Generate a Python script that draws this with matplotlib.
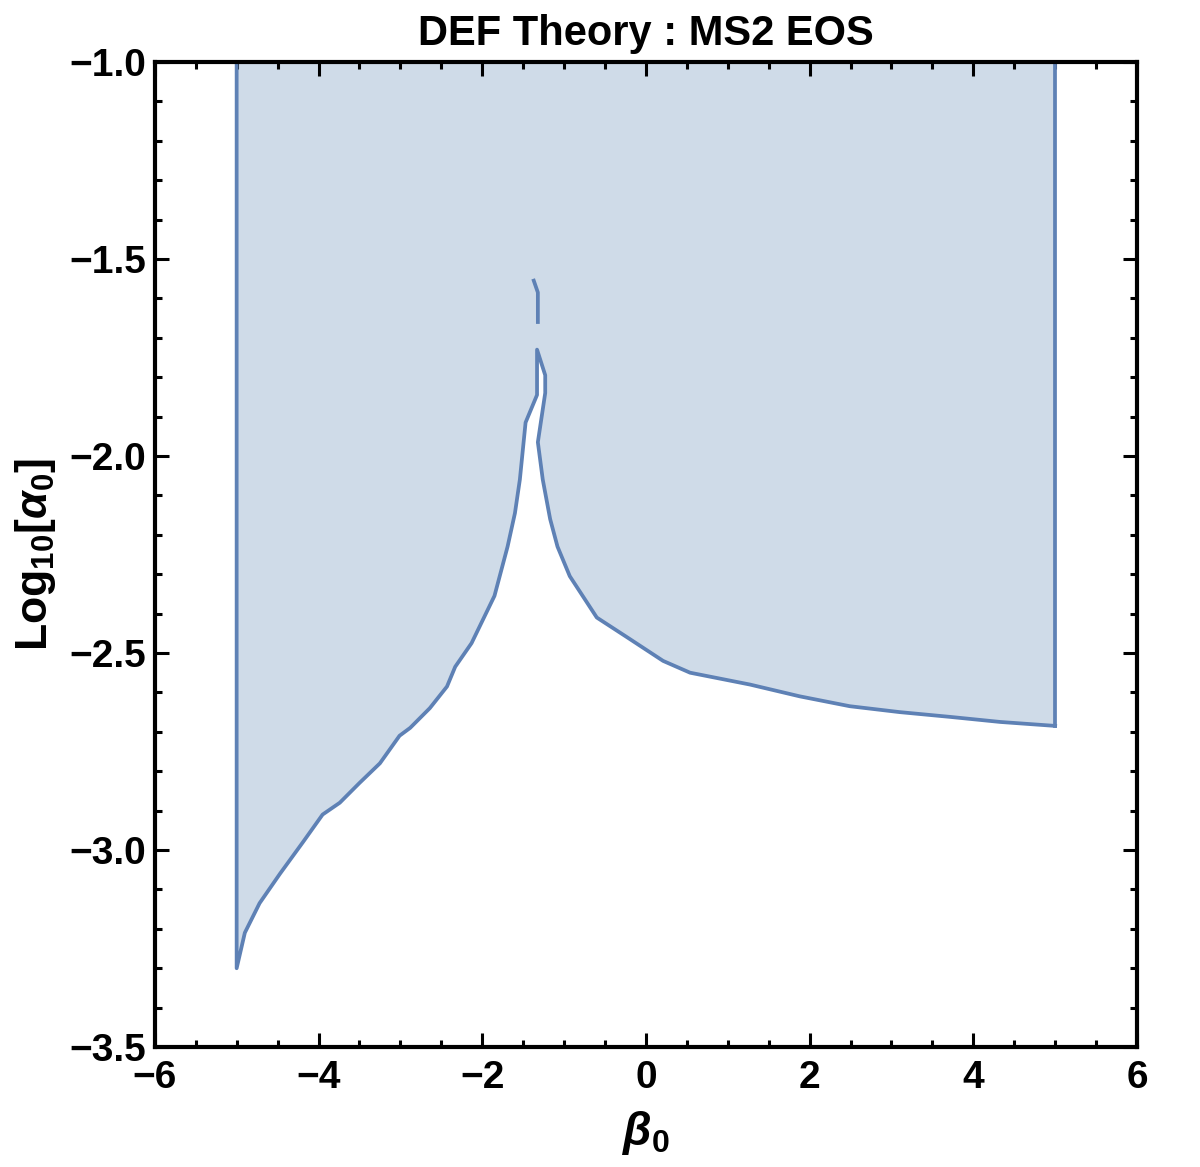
import numpy as np
import matplotlib
matplotlib.use("Agg")
import matplotlib.pyplot as plt
from matplotlib.ticker import MultipleLocator

plt.rcParams["font.family"] = ["Liberation Sans", "DejaVu Sans"]
plt.rcParams["font.weight"] = "bold"
plt.rcParams["mathtext.fontset"] = "custom"
plt.rcParams["mathtext.it"] = "Liberation Sans:italic:bold"
plt.rcParams["mathtext.rm"] = "Liberation Sans:bold"
plt.rcParams["mathtext.bf"] = "Liberation Sans:bold"

# boundary of the allowed region (beta0, log10 alpha0)
beta_left = [-5.00, -4.90, -4.72, -4.47, -4.19, -3.95, -3.74, -3.50, -3.25, -3.01,
             -2.88, -2.64, -2.43, -2.33, -2.13, -1.85, -1.69, -1.60, -1.54, -1.47,
             -1.33, -1.33]
logalpha_left = [-3.30, -3.21, -3.135, -3.06, -2.98, -2.91, -2.88, -2.83, -2.78, -2.71,
                 -2.69, -2.64, -2.585, -2.535, -2.475, -2.355, -2.23, -2.145, -2.06, -1.915,
                 -1.845, -1.73]
beta_right = [-1.23, -1.23, -1.32, -1.26, -1.17, -1.08, -0.93, -0.60, -0.23, 0.21,
              0.54, 1.27, 1.88, 2.49, 3.10, 3.71, 4.33, 5.00]
logalpha_right = [-1.795, -1.84, -1.965, -2.06, -2.16, -2.23, -2.305, -2.41, -2.46, -2.52,
                  -2.55, -2.58, -2.61, -2.635, -2.65, -2.662, -2.675, -2.685]
# small detached piece of the contour above the cusp
beta_piece = [-1.37, -1.32, -1.32]
logalpha_piece = [-1.555, -1.585, -1.66]

line_color = "#5e81b5"
fill_color = "#cfdbe8"

fig = plt.figure(figsize=(12, 11.67), dpi=100)
ax = fig.add_axes([0.129, 0.1028, 0.8185, 0.8441])

bx = [-5.0] + beta_left + beta_right + [5.0]
by = [-1.0] + logalpha_left + logalpha_right + [-1.0]
ax.fill(bx, by, color=fill_color, lw=0, zorder=1)
ax.plot(bx[:-1], by[:-1], color=line_color, lw=2.7, zorder=2, solid_joinstyle="round")
ax.plot([5.0, 5.0], [logalpha_right[-1], -1.0], color=line_color, lw=2.7, zorder=2)
ax.plot(beta_piece, logalpha_piece, color=line_color, lw=2.7, zorder=2)

ax.set_xlim(-6, 6)
ax.set_ylim(-3.5, -1.0)
ax.xaxis.set_major_locator(MultipleLocator(2))
ax.xaxis.set_minor_locator(MultipleLocator(0.5))
ax.yaxis.set_major_locator(MultipleLocator(0.5))
ax.yaxis.set_minor_locator(MultipleLocator(0.1))
ax.xaxis.set_major_formatter(plt.FuncFormatter(lambda v, p: f"{v:.0f}".replace("-", "\u2212")))
ax.yaxis.set_major_formatter(plt.FuncFormatter(lambda v, p: f"{v:.1f}".replace("-", "\u2212")))
ax.tick_params(which="both", direction="in", top=True, right=True, width=2.2,
               labelsize=28)
ax.tick_params(axis="x", pad=9)
ax.tick_params(axis="y", pad=6)
ax.tick_params(which="major", length=10)
ax.tick_params(which="minor", length=5)
for lab in ax.get_xticklabels() + ax.get_yticklabels():
    lab.set_fontweight("bold")
for s in ax.spines.values():
    s.set_linewidth(3)

ax.set_xlabel(r"$\beta_0$", fontsize=33, labelpad=10)
ax.set_ylabel(r"$\mathbf{Log_{10}[}\alpha_0\mathbf{]}$", fontsize=32, labelpad=8)
ax.set_title("DEF Theory : MS2 EOS", fontsize=30, fontweight="bold", pad=12)

fig.savefig("out.png", dpi=100)
